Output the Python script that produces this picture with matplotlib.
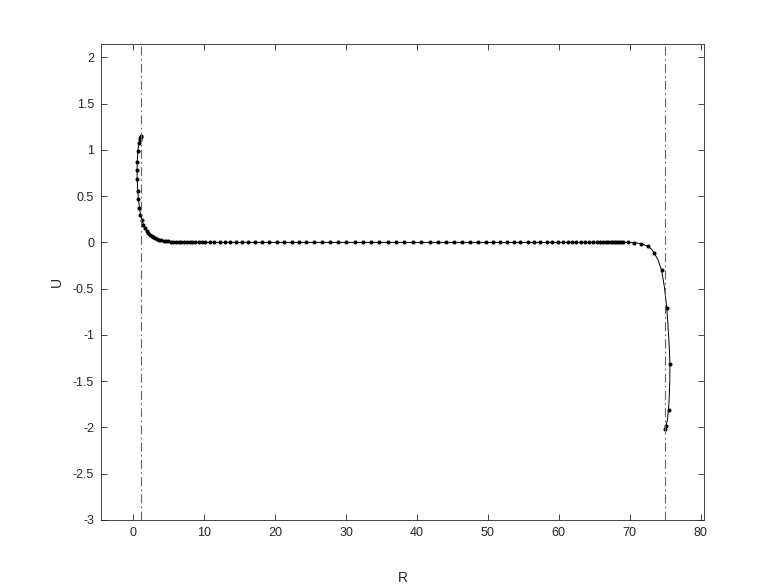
import matplotlib
matplotlib.use("Agg")
import matplotlib.pyplot as plt

# upturn near R = 1 (top of the hook first, then down and to the right)
r_left = [1.05, 1.02, 0.97, 0.93, 0.76, 0.62, 0.53, 0.51, 0.52, 0.60,
          0.70, 0.85, 0.99, 1.19, 1.41, 1.62, 1.85, 2.08, 2.32, 2.56,
          2.82, 3.08, 3.36, 3.65, 3.95, 4.26, 4.58, 4.92, 5.27, 5.63,
          6.00, 6.38, 6.77, 7.17, 7.58, 8.00, 8.24]
u_left = [1.152, 1.14, 1.125, 1.11, 1.07, 0.99, 0.87, 0.78, 0.69, 0.56,
          0.47, 0.375, 0.30, 0.24, 0.19, 0.155, 0.125, 0.10, 0.082, 0.067,
          0.054, 0.044, 0.035, 0.028, 0.022, 0.017, 0.013, 0.010, 0.008, 0.006,
          0.005, 0.004, 0.003, 0.002, 0.002, 0.001, 0.001]

# flat part
r_mid = [8.71, 9.18, 9.66, 10.13, 10.74, 11.4, 12.15, 12.86, 13.66, 14.5,
         15.3, 16.2, 17.2, 18.1, 19.1, 20.2, 21.2, 22.3, 23.3, 24.4,
         25.4, 26.6, 27.7, 28.8, 30.0, 31.2, 32.4, 33.5, 34.7, 35.9,
         37.1, 38.2, 39.5, 40.6, 41.8, 42.9, 44.1, 45.2, 46.4, 47.5,
         48.6, 49.7, 50.7, 51.7, 52.7, 53.7, 54.6, 55.6, 56.5, 57.4,
         58.3, 59.1, 59.9, 60.6, 61.3, 61.9, 62.5, 63.1, 63.7, 64.3,
         64.8, 65.4, 65.8, 66.3, 66.7, 67.0, 67.3, 67.6, 67.9, 68.2,
         68.5, 68.8, 69.1, 69.8]
u_mid = [0.0, 0.0, 0.0, 0.0, 0.0, 0.0, 0.0, 0.0, 0.0, 0.0,
         0.0, 0.0, 0.0, 0.0, 0.0, 0.0, 0.0, 0.0, 0.0, 0.0,
         0.0, 0.0, 0.0, 0.0, 0.0, 0.0, 0.0, 0.0, 0.0, 0.0,
         0.0, 0.0, 0.0, 0.0, 0.0, 0.0, 0.0, 0.0, 0.0, 0.0,
         0.0, 0.0, 0.0, 0.0, 0.0, 0.0, 0.0, 0.0, 0.0, 0.0,
         0.0, 0.0, 0.0, 0.0, 0.0, 0.0, 0.0, 0.0, 0.0, 0.0,
         0.0, 0.0, 0.0, 0.0, 0.0, 0.0, 0.0, 0.0, 0.0, 0.0,
         0.0, 0.0, 0.0, -0.001]

# downturn near R = 75: sampled points and the smooth line through them
r_right_pts = [70.6, 71.6, 72.6, 73.5, 74.5, 75.24, 75.66, 75.48, 75.1, 75.0]
u_right_pts = [-0.003, -0.014, -0.043, -0.12, -0.30, -0.715, -1.32, -1.81, -1.99, -2.02]
r_right_line = [70.6, 71.6, 72.6, 73.1, 73.5, 74.0, 74.5, 74.9, 75.24, 75.45,
                75.6, 75.68, 75.66, 75.58, 75.48, 75.3, 75.1, 75.0]
u_right_line = [-0.003, -0.014, -0.043, -0.075, -0.12, -0.19, -0.30, -0.48, -0.715, -0.95,
                -1.15, -1.32, -1.5, -1.68, -1.81, -1.93, -1.99, -2.02]

walls = [1, 75]
x_ticks = [0, 10, 20, 30, 40, 50, 60, 70, 80]
y_ticks = [-3, -2.5, -2, -1.5, -1, -0.5, 0, 0.5, 1, 1.5, 2]
y_tick_labels = ["-3", "-2.5", "-2", "-1.5", "-1", "-0.5", "0", "0.5", "1", "1.5", "2"]

plt.rcParams["font.family"] = ["Liberation Sans", "DejaVu Sans"]
axis_col = "#262626"

fig = plt.figure(figsize=(7.78, 5.84), dpi=100)
ax = fig.add_axes([0.13, 0.11, 0.775, 0.815])

ax.plot(r_left + r_mid + r_right_line, u_left + u_mid + u_right_line,
        color="black", linewidth=0.7)
ax.plot(r_left + r_mid + r_right_pts, u_left + u_mid + u_right_pts,
        linestyle="none", marker="o", markersize=1.9, color="black")

for w in walls:
    ax.axvline(w, color="#666666", linewidth=0.8, linestyle=(0, (8, 3, 1.5, 3)))

ax.set_xlim(-4.56, 80.5)
ax.set_ylim(-3, 2.148)
ax.set_xticks(x_ticks)
ax.set_xticklabels([str(t) for t in x_ticks])
ax.set_yticks(y_ticks)
ax.set_yticklabels(y_tick_labels)

ax.tick_params(direction="in", length=4.3, width=0.6, colors=axis_col,
               labelsize=9, top=True, right=True)
ax.tick_params(axis="x", pad=5.5)
ax.tick_params(axis="y", pad=5)
for s in ax.spines.values():
    s.set_color(axis_col)
    s.set_linewidth(0.6)

ax.set_xlabel("R", fontsize=10, color=axis_col)
ax.set_ylabel("U", fontsize=10, color=axis_col)
ax.xaxis.set_label_coords(0.5, -0.122)
ax.yaxis.set_label_coords(-0.073, 0.5)
ax.xaxis.label.set_va("center")
ax.yaxis.label.set_va("center")

fig.savefig("out.png", dpi=100)
